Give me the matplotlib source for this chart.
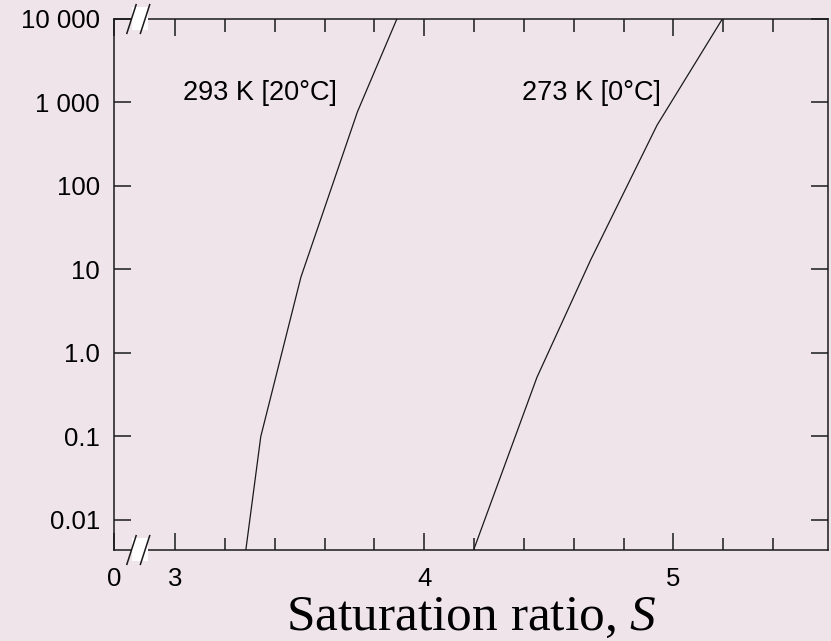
import matplotlib
matplotlib.use('Agg')
import matplotlib.pyplot as plt
from matplotlib.patches import Rectangle
from matplotlib.lines import Line2D

# Nucleation rate curves
s_293 = [3.284, 3.344, 3.505, 3.732, 3.890]
j_293 = [0.00437, 0.1, 8.1, 776, 10000]
s_273 = [4.198, 4.452, 4.667, 4.934, 5.196]
j_273 = [0.00437, 0.51, 12.9, 535, 10000]

x_min, x_max = 2.755, 5.62
y_min, y_max = 0.00437, 10000
x_ticks = [x_min, 3, 4, 5]
x_labels = ['0', '3', '4', '5']
y_ticks = [0.01, 0.1, 1, 10, 100, 1000, 10000]
y_labels = ['0.01', '0.1', '1.0', '10', '100', '1 000', '10 000']

bg = '#efe4ea'
ink = '#1a1a1a'

def main():
    plt.rcParams['font.family'] = ['Liberation Sans', 'DejaVu Sans']
    plt.rcParams['mathtext.fontset'] = 'custom'
    plt.rcParams['mathtext.rm'] = 'Liberation Serif'
    plt.rcParams['mathtext.it'] = 'Liberation Serif:italic'
    fig = plt.figure(figsize=(8.31, 6.41), dpi=100, facecolor=bg)
    ax = fig.add_axes([114 / 831, 1 - 550 / 641, 714 / 831, 531 / 641])
    ax.set_facecolor(bg)

    ax.plot(s_293, j_293, color=ink, lw=0.9)
    ax.plot(s_273, j_273, color=ink, lw=0.9)

    ax.set_yscale('log')
    ax.set_xlim(x_min, x_max)
    ax.set_ylim(y_min, y_max)
    ax.set_yticks(y_ticks, y_labels)
    ax.minorticks_off()
    ax.set_xticks(x_ticks, x_labels)
    ax.set_xticks([3.2, 3.4, 3.6, 3.8, 4.2, 4.4, 4.6, 4.8, 5.2, 5.4], minor=True)
    ax.tick_params(which='both', direction='in', top=True, right=True,
                   color=ink, width=1.1, labelsize=18.5)
    ax.tick_params(which='major', length=12)
    ax.tick_params(which='minor', length=9)
    ax.tick_params(axis='x', pad=12.5)
    ax.tick_params(axis='y', pad=10)
    for sp in ax.spines.values():
        sp.set_color(ink)
        sp.set_linewidth(1.1)

    ax.text(3.34, 1300, '293 K [20\u00b0C]', fontsize=19.5, ha='center', va='center')
    ax.text(4.67, 1300, '273 K [0\u00b0C]', fontsize=19.5, ha='center', va='center')

    # axis break marks on top and bottom spines
    for yb in (0.0, 1.0):
        gap = Rectangle((0.025, yb - 0.02), 0.023, 0.042, transform=ax.transAxes,
                        facecolor='white', edgecolor='none', zorder=10)
        gap.set_clip_on(False)
        fig.add_artist(gap)
        for x0 in (0.018, 0.037):
            mark = Line2D([x0, x0 + 0.013], [yb - 0.027, yb + 0.027], transform=ax.transAxes,
                          color=ink, lw=1.1, zorder=11)
            mark.set_clip_on(False)
            fig.add_artist(mark)

    ax.set_xlabel('Saturation ratio, $\\mathit{S}$', fontsize=37,
                  family='Liberation Serif')
    ax.xaxis.set_label_coords(0.5, -0.15, transform=ax.transAxes)
    ax.xaxis.label.set_va('baseline')

    fig.savefig('out.png', dpi=100, facecolor=bg)

if __name__ == '__main__':
    main()
